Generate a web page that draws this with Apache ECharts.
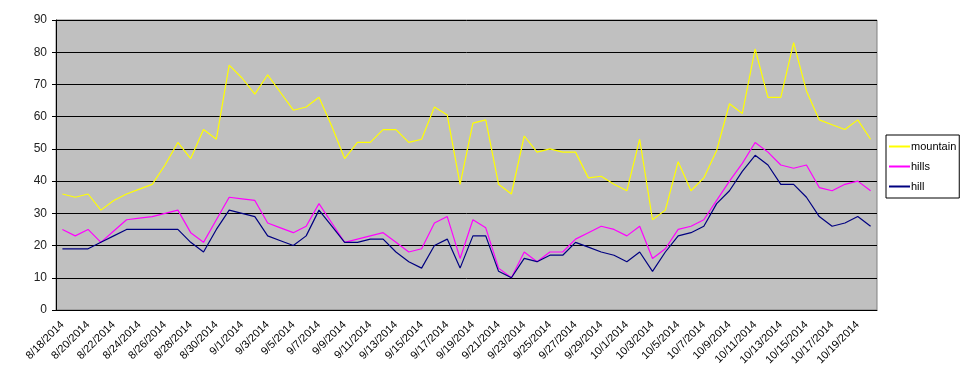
<!DOCTYPE html>
<html><head><meta charset="utf-8">
<script src="https://cdn.jsdelivr.net/npm/echarts@6/dist/echarts.min.js"></script>
<style>html,body{margin:0;padding:0;background:#fff}#c{width:960px;height:384px}</style>
</head><body><div id="c"></div>
<script>
const dates = ["8/18/2014","8/19/2014","8/20/2014","8/21/2014","8/22/2014","8/23/2014","8/24/2014","8/25/2014","8/26/2014","8/27/2014","8/28/2014","8/29/2014","8/30/2014","8/31/2014",
"9/1/2014","9/2/2014","9/3/2014","9/4/2014","9/5/2014","9/6/2014","9/7/2014","9/8/2014","9/9/2014","9/10/2014","9/11/2014","9/12/2014","9/13/2014","9/14/2014","9/15/2014","9/16/2014","9/17/2014","9/18/2014","9/19/2014","9/20/2014","9/21/2014","9/22/2014","9/23/2014","9/24/2014","9/25/2014","9/26/2014","9/27/2014","9/28/2014","9/29/2014","9/30/2014",
"10/1/2014","10/2/2014","10/3/2014","10/4/2014","10/5/2014","10/6/2014","10/7/2014","10/8/2014","10/9/2014","10/10/2014","10/11/2014","10/12/2014","10/13/2014","10/14/2014","10/15/2014","10/16/2014","10/17/2014","10/18/2014","10/19/2014","10/20/2014"];
const mountain = [36,35,36,31,34,36,37.5,39,45,52,47,56,53,76,72,67,73,67.5,62,63,66,57,47,52,52,56,56,52,53,63,60.5,39,58,59,39,36,54,49,50,49,49,41,41.5,39,37,53,28,31,46,37,41,49.5,64,61,81,66,66,83,68,59,57.5,56,59,53];
const hills = [25,23,25,21,24.5,28,28.5,29,30,31,24,21,28,35,34.5,34,27,25.5,24,26,33,27,21,22,23,24,21,18,19,27,29,16,28,25.5,13,10,18,15,18,18,22,24,26,25,23,26,16,19,25,26,28,34,40,45.5,52,49,45,44,45,38,37,39,40,37];
const hill = [19,19,19,21,23,25,25,25,25,25,21,18,25,31,30,29,23,21.5,20,23,31,26,21,21,22,22,18,15,13,20,22,13,23,23,12,10,16,15,17,17,21,19.5,18,17,15,18,12,18,23,24,26,33,37,43,48,45,39,39,35,29,26,27,29,26];
const yTicks = {min:0, max:90, interval:10};

const chart = echarts.init(document.getElementById('c'), null, {renderer:'canvas'});
const font = 'Liberation Sans, Arial, sans-serif';
function s(name, data, color){
  return {name, type:'line', data, symbol:'none', smooth:false, animation:false,
    lineStyle:{color, width:1.2}, itemStyle:{color}};
}
chart.setOption({
  animation:false,
  backgroundColor:'#fff',
  grid:{left:56, right:83, top:20, bottom:74, show:true, backgroundColor:'#c0c0c0', borderColor:'#808080', borderWidth:1},
  legend:{
    orient:'vertical', left:886, top:135, itemWidth:21, itemHeight:2, itemGap:7,
    backgroundColor:'#fff', borderColor:'#000', borderWidth:1, padding:[5,3,5,3],
    icon:'rect',
    textStyle:{fontFamily:font, fontSize:11, color:'#000', padding:[0,0,0,-4], lineHeight:13},
    data:['mountain','hills','hill']
  },
  xAxis:{type:'category', data:dates, boundaryGap:true,
    axisLine:{lineStyle:{color:'#000', width:1}},
    axisTick:{interval:1, length:4, lineStyle:{color:'#000'}},
    axisLabel:{interval:1, rotate:45, fontFamily:font, fontSize:11, color:'#000', margin:13},
    splitLine:{show:false}
  },
  yAxis:{type:'value', min:yTicks.min, max:yTicks.max, interval:yTicks.interval,
    axisLine:{show:true, lineStyle:{color:'#000'}},
    axisTick:{show:true, length:4, lineStyle:{color:'#000'}},
    axisLabel:{fontFamily:font, fontSize:12, color:'#222', margin:9},
    splitLine:{show:true, lineStyle:{color:'#000', width:1}}
  },
  series:[s('mountain', mountain, '#ffff00'), s('hills', hills, '#ff00ff'), s('hill', hill, '#000080')]
});
</script></body></html>
